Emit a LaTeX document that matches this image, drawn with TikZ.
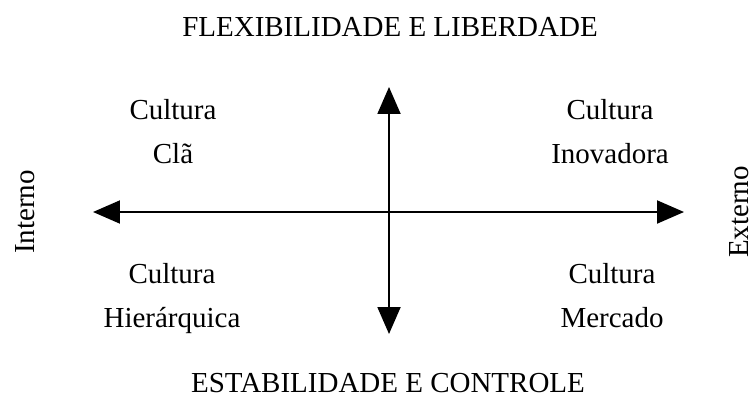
\documentclass[tikz,border=0pt]{standalone}
\usepackage{fontspec}
\setmainfont{Liberation Serif}
\usetikzlibrary{positioning,arrows.meta}

\begin{document}
\begin{tikzpicture}[
    x=0.02cm, y=-0.02cm,
    font={\fontsize{16.5}{25}\selectfont},
    quadrant/.style={align=center,inner sep=0pt,anchor=base},
    axislabel/.style={inner sep=0pt},
    axis/.style={line width=1.1pt,{Triangle[length=0.54cm,width=0.46cm]}-{Triangle[length=0.54cm,width=0.46cm]}},
]
    \useasboundingbox (0,0) rectangle (756,412);

    % Axes
    \coordinate (west)  at (93,212);
    \coordinate (east)  at (684,212);
    \coordinate (north) at (389,87);
    \coordinate (south) at (389,334);
    \draw[axis] (west) -- (east);
    \draw[axis] (north) -- (south);

    % Axis labels
    \node[axislabel] (flex) at (390,27) {FLEXIBILIDADE E LIBERDADE};
    \node[axislabel] (estab) at (388,383) {ESTABILIDADE E CONTROLE};
    \node[axislabel,rotate=90] (interno) at (25,212) {Interno};
    \node[axislabel,rotate=90] (externo) at (739,212) {Externo};

    % Quadrants (base = baseline of the second line)
    \node[quadrant] (cla)  at (173,163) {Cultura\\Clã};
    \node[quadrant] (inov) at (610,163) {Cultura\\Inovadora};
    \node[quadrant] (hier) at (172,327) {Cultura\\Hierárquica};
    \node[quadrant] (merc) at (612,327) {Cultura\\Mercado};

\end{tikzpicture}
\end{document}
